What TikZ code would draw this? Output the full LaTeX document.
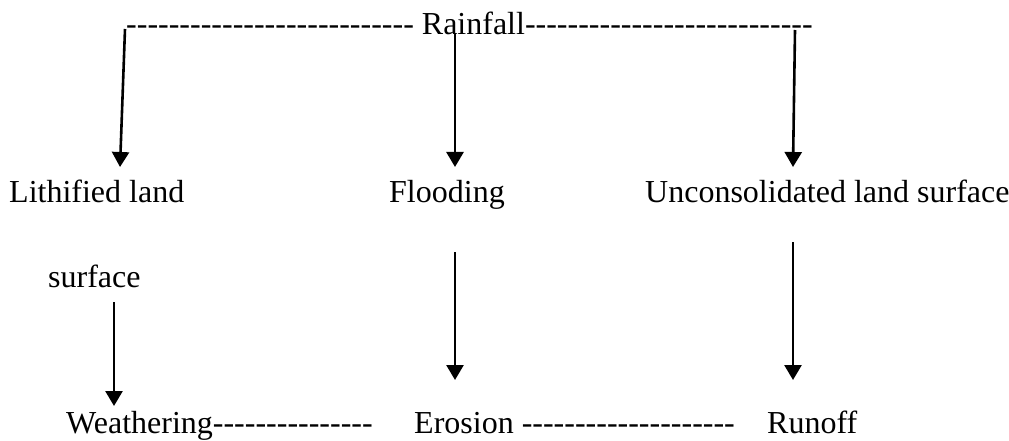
\documentclass[tikz,border=0pt]{standalone}
\usepackage{fontspec}
\setmainfont{Liberation Serif}[Ligatures=TeXOff]
\usetikzlibrary{arrows.meta}
\begin{document}
\begin{tikzpicture}[x=1pt,y=-1pt,
    txt/.style={font=\fontsize{32}{36}\selectfont, inner sep=0pt, anchor=base west},
    arr/.style={-{Triangle[width=17pt,length=15pt]}, line width=2.6pt}]
    % Page frame
    \useasboundingbox (0,0) rectangle (1009,441);

    % Top line
    \node[txt] (rain) at (126,35) {--------------------------- Rainfall---------------------------};

    % Middle row
    \node[txt] (lith) at (9,202) {Lithified land};
    \node[txt] (flood) at (389,202) {Flooding};
    \node[txt] (uncons) at (645,202) {Unconsolidated land surface};
    \node[txt] (surf) at (48,287) {surface};

    % Bottom row
    \node[txt] (weath) at (66,433) {Weathering---------------};
    \node[txt] (eros) at (414,433) {Erosion --------------------};
    \node[txt] (runoff) at (767,433) {Runoff};

    % Arrow ends
    \coordinate (r1) at (125,29);  \coordinate (l1) at (120,167);
    \coordinate (r2) at (455,33);  \coordinate (f1) at (455,167);
    \coordinate (r3) at (795,30);  \coordinate (u1) at (793,167);
    \coordinate (s1) at (114,302); \coordinate (w1) at (114,406);
    \coordinate (f2) at (455,252); \coordinate (e1) at (455,380);
    \coordinate (u2) at (793,242); \coordinate (o1) at (793,380);

    % Arrows
    \foreach \a/\b in {r1/l1, r2/f1, r3/u1, s1/w1, f2/e1, u2/o1}
    \draw[arr] (\a) -- (\b);
\end{tikzpicture}
\end{document}
